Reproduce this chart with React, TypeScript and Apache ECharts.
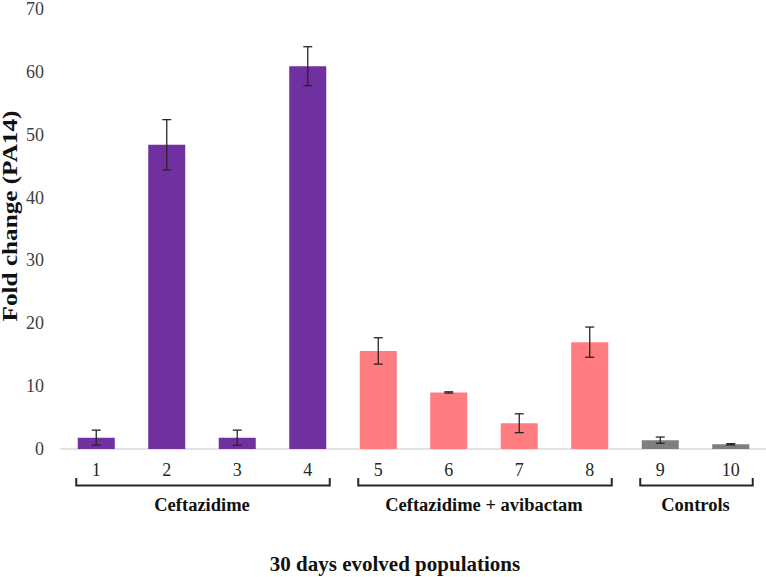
import React, { useEffect, useRef } from "react";
import * as echarts from "echarts";

const categories = ["1", "2", "3", "4", "5", "6", "7", "8", "9", "10"];
const values = [1.8, 48.4, 1.8, 60.9, 15.6, 9.0, 4.1, 17.0, 1.4, 0.75];
const errors = [1.2, 4.0, 1.2, 3.1, 2.1, 0.1, 1.5, 2.4, 0.5, 0.1];
const groupOf = [0, 0, 0, 0, 1, 1, 1, 1, 2, 2];
const groupNames = ["Ceftazidime", "Ceftazidime + avibactam", "Controls"];
const groupColors = ["#7030A0", "#FF7C80", "#7F7F7F"];
const yMin = 0;
const yMax = 70;
const yInterval = 10;
const yTitle = "Fold change (PA14)";
const xTitle = "30 days evolved populations";

const SERIF = "Liberation Serif";

export default function App() {
  const ref = useRef<HTMLDivElement>(null);
  useEffect(() => {
    if (!ref.current) return;
    const chart = echarts.init(ref.current, null, { renderer: "svg" });
    const errStyle = { stroke: "#262626", lineWidth: 1.3 };
    const option: any = {
      animation: false,
      backgroundColor: "#ffffff",
      textStyle: { fontFamily: SERIF },
      grid: { left: 61, right: 0, top: 9, bottom: 128, containLabel: false },
      xAxis: {
        type: "category",
        data: categories,
        axisLine: { show: true, lineStyle: { color: "#d9d9d9", width: 1.5 } },
        axisTick: { show: false },
        axisLabel: { fontSize: 18, color: "#262626", fontFamily: SERIF, margin: 12 },
      },
      yAxis: {
        type: "value",
        min: yMin,
        max: yMax,
        interval: yInterval,
        axisLine: { show: false },
        axisTick: { show: false },
        splitLine: { show: false },
        axisLabel: { fontSize: 18, color: "#404040", fontFamily: SERIF, margin: 17 },
      },
      series: [
        {
          type: "bar",
          barWidth: "52.5%",
          data: values.map((v, i) => ({ value: v, itemStyle: { color: groupColors[groupOf[i]] } })),
        },
        {
          type: "custom",
          z: 10,
          data: values.map((v, i) => [i, v, errors[i]]),
          encode: { x: 0, y: 1 },
          renderItem: (params: any, api: any) => {
            const i = api.value(0);
            const v = api.value(1);
            const e = api.value(2);
            const top = api.coord([i, v + e]);
            const bot = api.coord([i, v - e]);
            const h = 4.5;
            return {
              type: "group",
              children: [
                { type: "line", shape: { x1: top[0], y1: top[1], x2: bot[0], y2: bot[1] }, style: errStyle },
                { type: "line", shape: { x1: top[0] - h, y1: top[1], x2: top[0] + h, y2: top[1] }, style: errStyle },
                { type: "line", shape: { x1: bot[0] - h, y1: bot[1], x2: bot[0] + h, y2: bot[1] }, style: errStyle },
              ],
            };
          },
        },
      ],
    };
    chart.setOption(option);

    const px = (i: number) => chart.convertToPixel({ xAxisIndex: 0 }, categories[i]) as number;
    const graphics: any[] = [];
    const bracketTop = 478;
    const bracketY = 485.5;
    const textStyle = (text: string, size: number) => ({
      text,
      fontFamily: SERIF,
      fontSize: size,
      fontWeight: "bold",
      fill: "#111111",
      textAlign: "center",
      textVerticalAlign: "middle",
    });
    groupNames.forEach((name, g) => {
      const idx = groupOf.map((gg, i) => (gg === g ? i : -1)).filter((i) => i >= 0);
      const x1 = px(idx[0]) - 20;
      const x2 = px(idx[idx.length - 1]) + 22;
      graphics.push({
        type: "polyline",
        shape: { points: [[x1, bracketTop], [x1, bracketY], [x2, bracketY], [x2, bracketTop]] },
        style: { stroke: "#262626", lineWidth: 2, fill: null },
      });
      graphics.push({
        type: "text",
        x: (x1 + x2) / 2 - 1,
        y: 505,
        style: textStyle(name, 18.5),
      });
    });
    graphics.push({ type: "text", x: 395, y: 564, style: textStyle(xTitle, 21) });
    graphics.push({
      type: "text",
      x: 10,
      y: 216,
      rotation: Math.PI / 2,
      scaleX: 1.26,
      style: textStyle(yTitle, 20),
    });
    chart.setOption({ graphic: graphics });

    return () => chart.dispose();
  }, []);
  return <div ref={ref} style={{ position: "absolute", left: 0, top: 0, width: 766, height: 577 }} />;
}
